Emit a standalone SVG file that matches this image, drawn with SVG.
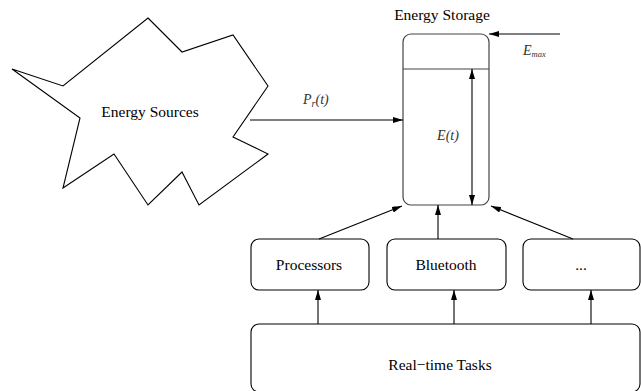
<svg xmlns="http://www.w3.org/2000/svg" width="641" height="391" viewBox="0 0 641 391">
<style>
.ln{fill:none;stroke:#000;stroke-width:1.1}
.gl{fill:none;stroke:#444;stroke-width:1.2}
.box{fill:#fff;stroke:#000;stroke-width:1.1}
.t{font-family:'Liberation Serif','DejaVu Serif','Times New Roman',serif;font-size:15.5px;fill:#000;text-anchor:middle}
.m{font-family:'Liberation Serif','DejaVu Serif','Times New Roman',serif;font-style:italic;font-size:14px;fill:#333}
</style>
<defs>
<marker id="ah" viewBox="0 0 10 6" refX="10" refY="3" markerWidth="10" markerHeight="6" markerUnits="userSpaceOnUse" orient="auto-start-reverse">
<path d="M0,0 L10,3 L0,6 z" fill="#000"/>
</marker>
</defs>
<g id="energy-sources">
<polygon class="ln" points="148,18 182,52 233,35 268,86 233,137 268,154 199,205 182,172 148,205 114,154 63,188 80,118 12,69 63,86"/>
<text class="t" x="150" y="117">Energy Sources</text>
</g>
<g id="energy-storage">
<rect class="gl" x="403" y="34" width="86" height="171" rx="8"/>
<line class="gl" x1="403" y1="69" x2="489" y2="69"/>
<text class="t" x="442" y="20">Energy Storage</text>
<text class="m" x="448" y="140" text-anchor="middle">E(t)</text>
</g>
<g id="processors">
<rect class="box" x="251" y="239" width="118" height="51" rx="8"/>
<text class="t" x="309" y="270">Processors</text>
</g>
<g id="bluetooth">
<rect class="box" x="387" y="239" width="119" height="51" rx="8"/>
<text class="t" x="446" y="270">Bluetooth</text>
</g>
<g id="more">
<rect class="box" x="523" y="239" width="117" height="51" rx="8"/>
<text class="t" x="581" y="270">...</text>
</g>
<g id="tasks">
<rect class="box" x="251" y="324" width="389" height="68" rx="8"/>
<text class="t" x="440" y="370">Real−time Tasks</text>
</g>
<g id="connectors">
<line class="ln" x1="250" y1="120" x2="403" y2="120" marker-end="url(#ah)"/>
<text class="m" x="303" y="104">P<tspan font-size="10" dy="3">r</tspan><tspan dy="-3">(t)</tspan></text>
<line class="ln" x1="560" y1="34" x2="489" y2="34" marker-end="url(#ah)"/>
<text class="m" x="523" y="55" font-size="12">E<tspan font-size="8.5" dy="2">max</tspan></text>
<line class="ln" x1="472" y1="69" x2="472" y2="205" marker-start="url(#ah)" marker-end="url(#ah)"/>
<line class="ln" x1="319" y1="239" x2="402" y2="206" marker-end="url(#ah)"/>
<line class="ln" x1="438" y1="239" x2="438" y2="205" marker-end="url(#ah)"/>
<line class="ln" x1="573" y1="239" x2="491" y2="206" marker-end="url(#ah)"/>
<line class="ln" x1="318" y1="324" x2="318" y2="290" marker-end="url(#ah)"/>
<line class="ln" x1="454" y1="324" x2="454" y2="290" marker-end="url(#ah)"/>
<line class="ln" x1="591" y1="324" x2="591" y2="290" marker-end="url(#ah)"/>
</g>
</svg>
